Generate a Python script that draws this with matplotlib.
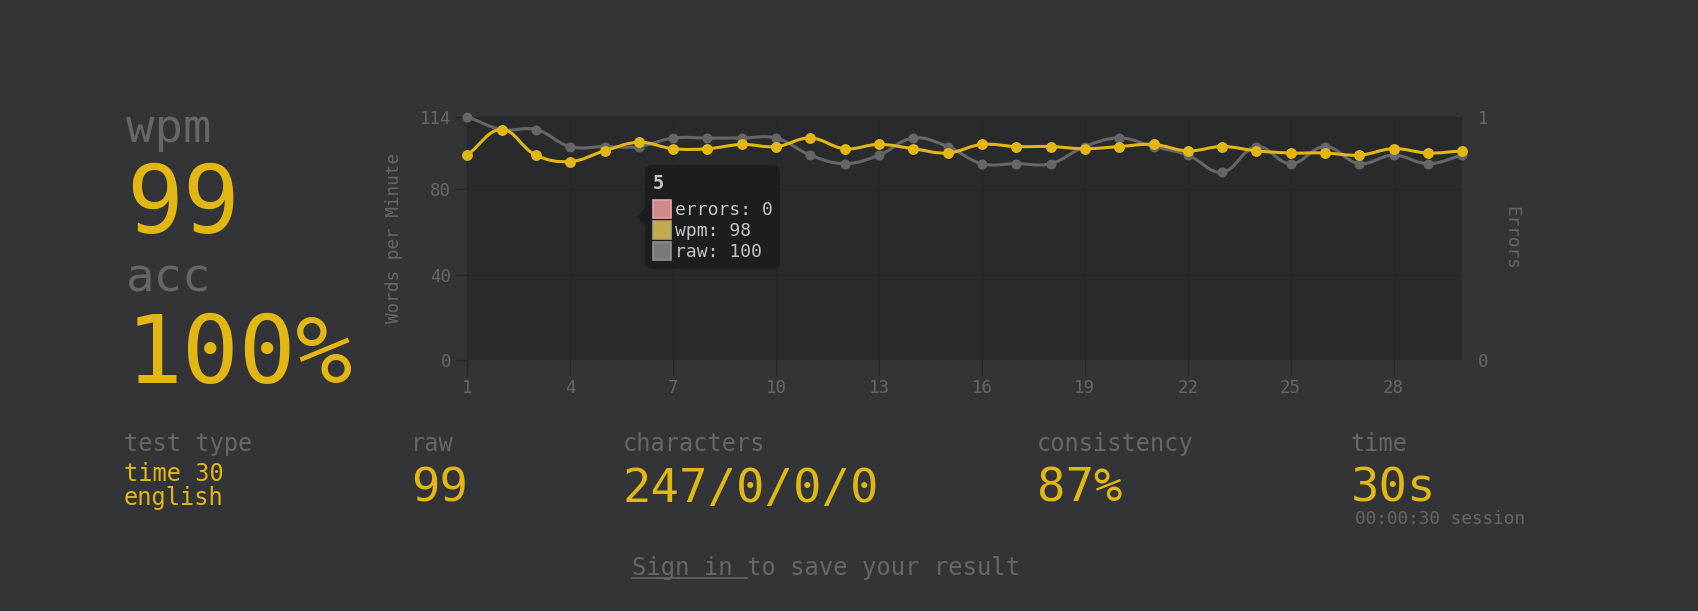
import numpy as np
import matplotlib
matplotlib.use('Agg')
import matplotlib.pyplot as plt
from matplotlib.path import Path
from matplotlib.patches import PathPatch, FancyBboxPatch, Rectangle, Polygon
from matplotlib.lines import Line2D
import matplotlib.transforms as mtransforms

# ---------------- data ----------------
seconds = list(range(1, 31))
wpm = [96, 108, 96, 93, 98, 102, 99, 99, 101, 100, 104, 99, 101, 99, 97,
       101, 100, 100, 99, 100, 101, 98, 100, 98, 97, 97, 96, 99, 97, 98]
raw = [114, 108, 108, 100, 100, 100, 104, 104, 104, 104, 96, 92, 96, 104, 100,
       92, 92, 92, 100, 104, 100, 96, 88, 100, 92, 100, 92, 96, 92, 96]
errors = [0] * 30
x_ticks = list(range(1, 31, 3))
y_ticks = [0, 40, 80, 114]
err_ticks = [0, 1]

big_stats = [("wpm", "99"), ("acc", "100%")]
small_stats = [("test type", ["time 30", "english"]),
               ("raw", ["99"]),
               ("characters", ["247/0/0/0"]),
               ("consistency", ["87%"]),
               ("time", ["30s"])]
session_text = "00:00:30 session"
sign_in = "Sign in "
sign_rest = "to save your result"
tooltip_index = 5

# ---------------- style ----------------
BG = '#323437'
SUB = '#646669'
MAIN = '#e2b714'
PLOT_BG = '#292a2c'
GRID = '#252628'
TIP_TXT = '#c4c4c4'
FONT = 'DejaVu Sans Mono'
plt.rcParams['font.family'] = [FONT, 'DejaVu Sans']

W, H, DPI = 1698, 611, 100
fig = plt.figure(figsize=(W / DPI, H / DPI), dpi=DPI, facecolor=BG)
T = mtransforms.Affine2D().scale(1 / DPI) + fig.dpi_scale_trans  # pixels from bottom-left


def px(x, y):
    return x, H - y


# ---------------- chart ----------------
L, R, TOP, BOT = 467.3, 1462.3, 116.7, 360.0
ax = fig.add_axes([L / W, 1 - BOT / H, (R - L) / W, (BOT - TOP) / H])
ax.set_facecolor(PLOT_BG)
ax.set_xlim(seconds[0], seconds[-1])
ax.set_ylim(0, max(y_ticks))
ax.set_xticks(x_ticks)
ax.set_yticks(y_ticks)
ax.set_axisbelow(True)
ax.grid(True, color=GRID, lw=1)
for s in ax.spines.values():
    s.set_visible(False)
ax.tick_params(axis='y', length=9, width=1, color=GRID, labelcolor=SUB,
               labelsize=12.5, pad=2.5)
ax.tick_params(axis='x', length=10.5, width=1, color=GRID, labelcolor=SUB,
               labelsize=12.5, pad=3)
ax.set_ylabel('Words per Minute', color=SUB, fontsize=12.8)
ax.yaxis.set_label_coords(-0.0737, 0.5)
ax.yaxis.label.set_va('center')

ax2 = ax.twinx()
ax2.set_ylim(0, 1)
ax2.set_yticks(err_ticks)
for s in ax2.spines.values():
    s.set_visible(False)
ax2.tick_params(axis='y', length=0, labelcolor=SUB, labelsize=12.5, pad=11.5)
ax2.set_ylabel('Errors', color=SUB, fontsize=12.8, rotation=270)
ax2.yaxis.set_label_coords(1.049, 0.5)
ax2.yaxis.label.set_va('center')
err_x = [s for s, e in zip(seconds, errors) if e > 0]
err_y = [e for e in errors if e > 0]
ax2.scatter(err_x, err_y, color='#ca4754', s=30, marker='x')


def smooth_path(axis, xs, ys, tension=0.4):
    pts = axis.transData.transform(np.column_stack([xs, ys]))
    n = len(pts)
    cprev, cnext = [], []
    for i in range(n):
        p1 = pts[i]
        p0 = pts[i - 1] if i > 0 else p1
        p2 = pts[i + 1] if i < n - 1 else p1
        d01 = np.hypot(*(p1 - p0))
        d12 = np.hypot(*(p2 - p1))
        tot = d01 + d12
        s01 = d01 / tot if tot else 0
        s12 = d12 / tot if tot else 0
        cprev.append(p1 - tension * s01 * (p2 - p0))
        cnext.append(p1 + tension * s12 * (p2 - p0))
    verts = [pts[0]]
    codes = [Path.MOVETO]
    for i in range(1, n):
        verts += [cnext[i - 1], cprev[i], pts[i]]
        codes += [Path.CURVE4] * 3
    data = axis.transData.inverted().transform(np.array(verts))
    return Path(data, codes)


for ys, col, lw, ms, z in [(raw, SUB, 2.2, 6.2, 3), (wpm, MAIN, 2.2, 6.8, 4)]:
    patch = PathPatch(smooth_path(ax, seconds, ys), fc='none', ec=col, lw=lw,
                      zorder=z, clip_on=False, capstyle='round', joinstyle='round')
    ax.add_patch(patch)
    ax.plot(seconds, ys, 'o', ls='none', color=col, ms=ms, zorder=z,
            clip_on=False, mec=col)

# ---------------- tooltip ----------------
tb = FancyBboxPatch(px(645, 269), 135, 104,
                    boxstyle='round,pad=0,rounding_size=7',
                    fc='#1c1d1f', ec='none', alpha=0.94, transform=T, zorder=10)
fig.patches.append(tb)
arrow = Polygon([px(645, 208), px(637, 217), px(645, 226)], closed=True,
                fc='#1c1d1f', ec='none', alpha=0.94, transform=T, zorder=10)
fig.patches.append(arrow)
ti = seconds.index(tooltip_index)
fig.text(*px(653, 189), str(tooltip_index), transform=T, color=TIP_TXT,
         fontsize=13.5, fontweight='bold', zorder=11)
rows = [("errors", errors[ti], '#d2898e', '#e0a4a8'),
        ("wpm", wpm[ti], '#c4aa4e', '#a8a27c'),
        ("raw", raw[ti], '#7a7a7a', '#8e8e8e')]
for k, (name, val, fc, ec) in enumerate(rows):
    top = 200 + k * 21
    r = Rectangle(px(653, top + 18), 18, 18, fc=fc, ec=ec, lw=1.2,
                  transform=T, zorder=11)
    fig.patches.append(r)
    fig.text(*px(675, top + 15), f"{name}: {val}", transform=T,
             color=TIP_TXT, fontsize=13, zorder=11)

# ---------------- big stats ----------------
big_pos = [(126, 142, 233), (126, 292, 383)]
for (lab, val), (x, yl, yv) in zip(big_stats, big_pos):
    fig.text(*px(x, yl), lab, transform=T, color=SUB, fontsize=34)
    fig.text(*px(x, yv), val, transform=T, color=MAIN, fontsize=68)

# ---------------- small stats ----------------
small_x = [124, 411, 623, 1037, 1351]
for (lab, vals), x in zip(small_stats, small_x):
    fig.text(*px(x, 451), lab, transform=T, color=SUB, fontsize=17)
    if len(vals) > 1:
        for j, v in enumerate(vals):
            fig.text(*px(x, 481 + 24 * j), v, transform=T, color=MAIN, fontsize=17)
    else:
        fig.text(*px(x, 502), vals[0], transform=T, color=MAIN, fontsize=34)
fig.text(*px(1355, 524), session_text, transform=T, color=SUB, fontsize=12.8)

# ---------------- sign in ----------------
full = sign_in + sign_rest
t = fig.text(*px(632, 575), full, transform=T, color=SUB, fontsize=17.2)
fig.canvas.draw()
bb = t.get_window_extent(renderer=fig.canvas.get_renderer())
frac = len(sign_in) / len(full)
ux0 = bb.x0
ux1 = bb.x0 + (bb.x1 - bb.x0) * frac
uy = H - 578
fig.lines.append(Line2D([ux0 / DPI, ux1 / DPI], [uy / DPI, uy / DPI],
                        transform=fig.dpi_scale_trans, color=SUB, lw=1.2))

fig.savefig('out.png', dpi=DPI, facecolor=BG)
